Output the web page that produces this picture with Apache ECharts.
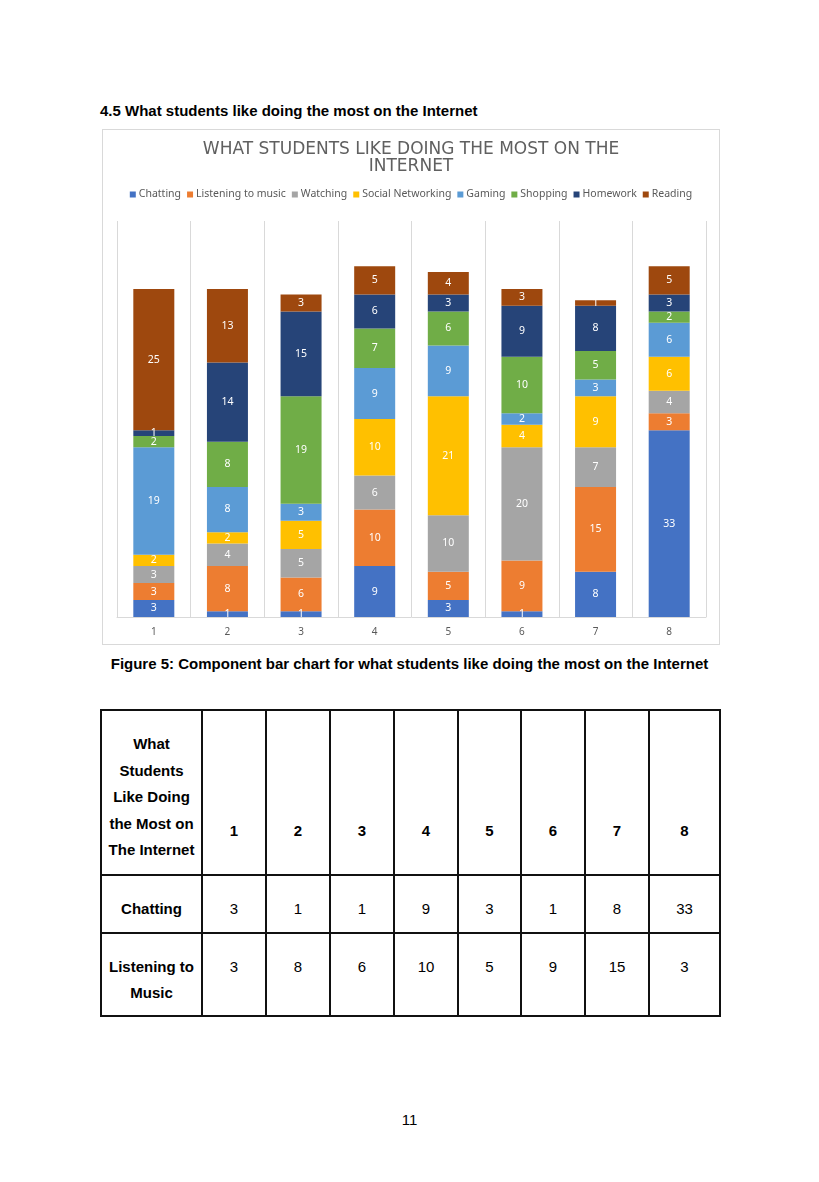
<!DOCTYPE html>
<html><head><meta charset="utf-8">
<script src="https://cdn.jsdelivr.net/npm/echarts@6/dist/echarts.min.js"></script>
<style>
html,body{margin:0;padding:0;background:#fff;}
body{width:819px;height:1182px;position:relative;font-family:"Liberation Sans",Arial,sans-serif;color:#000;}
#heading{position:absolute;left:100px;top:102px;font-size:15px;font-weight:bold;white-space:nowrap;}
#chart{position:absolute;left:102px;top:129px;width:618px;height:516px;box-sizing:border-box;border:1px solid #d9d9d9;}
#caption{position:absolute;left:0;width:819px;top:655px;text-align:center;font-size:15px;font-weight:bold;white-space:nowrap;}
#tbl{position:absolute;left:100px;top:709px;border-collapse:collapse;font-size:15px;table-layout:fixed;width:620px;}
#tbl td{border:2px solid #111;text-align:center;vertical-align:top;padding:0;line-height:26px;}
#tbl td.h{font-weight:bold;}
#page{position:absolute;left:0;width:819px;top:1111px;text-align:center;font-size:15px;}
</style></head>
<body>
<div id="heading">4.5 What students like doing the most on the Internet</div>
<div id="chart"></div>
<div id="caption">Figure 5: Component bar chart for what students like doing the most on the Internet</div>
<table id="tbl"></table>
<div id="page">11</div>
<script>
const categories = ['1','2','3','4','5','6','7','8'];
const seriesNames = ['Chatting','Listening to music','Watching','Social Networking','Gaming','Shopping','Homework','Reading'];
const chatting   = [3, 1, 1, 9, 3, 1, 8, 33];
const listening  = [3, 8, 6, 10, 5, 9, 15, 3];
const watching   = [3, 4, 5, 6, 10, 20, 7, 4];
const social     = [2, 2, 5, 10, 21, 4, 9, 6];
const gaming     = [19, 8, 3, 9, 9, 2, 3, 6];
const shopping   = [2, 8, 19, 7, 6, 10, 5, 2];
const homework   = [1, 14, 15, 6, 3, 9, 8, 3];
const reading    = [25, 13, 3, 5, 4, 3, 1, 5];
const colors = ['#4472C4','#ED7D31','#A5A5A5','#FFC000','#5B9BD5','#70AD47','#264478','#9E480E'];
const tableHeader = 'What<br>Students<br>Like Doing<br>the Most on<br>The Internet';
const tableRowLabels = ['Chatting','Listening to<br>Music'];

const allData = [chatting, listening, watching, social, gaming, shopping, homework, reading];

// table
const colW = [101,64,64,64,64,63,64,64,71];
let html = '<colgroup>' + colW.map(w=>'<col style="width:'+w+'px">').join('') + '</colgroup>';
html += '<tr style="height:165px"><td class="h" style="line-height:26.5px;padding-top:20px">'+tableHeader+'</td>';
categories.forEach((c,i)=>{ html += '<td class="h" style="padding-top:107px">'+c+'</td>'; });
html += '</tr>';
const rowsData = [chatting, listening];
const rowH = [58, 83];
rowsData.forEach((r,ri)=>{
  html += '<tr style="height:'+rowH[ri]+'px"><td class="h" style="padding-top:20px">'+tableRowLabels[ri]+'</td>';
  r.forEach(v=>{ html += '<td style="padding-top:20px">'+v+'</td>'; });
  html += '</tr>';
});
document.getElementById('tbl').innerHTML = html;

const chart = echarts.init(document.getElementById('chart'), null, {renderer:'canvas'});
chart.setOption({
  animation:false,
  color: colors,
  title:{
    text:'WHAT STUDENTS LIKE DOING THE MOST ON THE\nINTERNET',
    left:'center', top:6,
    textStyle:{fontFamily:'DejaVu Sans', fontSize:17, fontWeight:'normal', color:'#606060', lineHeight:17}
  },
  legend:{
    top:54, left:'center', itemWidth:6, itemHeight:6, itemGap:6,
    icon:'rect',
    textStyle:{fontFamily:'Noto Sans', fontSize:10.5, color:'#595959', padding:[0,0,0,-2]},
    data: seriesNames
  },
  grid:{left:14, right:13, top:91, bottom:27},
  xAxis:{
    type:'category', data:categories,
    axisLine:{lineStyle:{color:'#d9d9d9'}},
    axisTick:{show:false},
    axisLabel:{color:'#595959', fontSize:10, fontFamily:'Noto Sans', margin:10},
    splitLine:{show:true, lineStyle:{color:'#d9d9d9'}}
  },
  yAxis:{type:'value', min:0, max:70, show:false, splitLine:{show:false}},
  series: seriesNames.map((n,i)=>({
    name:n, type:'bar', stack:'total', barWidth:41,
    data: allData[i],
    label:{show:true, position:'inside', color:'#fff', fontSize:10.5, fontFamily:'Noto Sans'}
  }))
});
</script>
</body></html>
